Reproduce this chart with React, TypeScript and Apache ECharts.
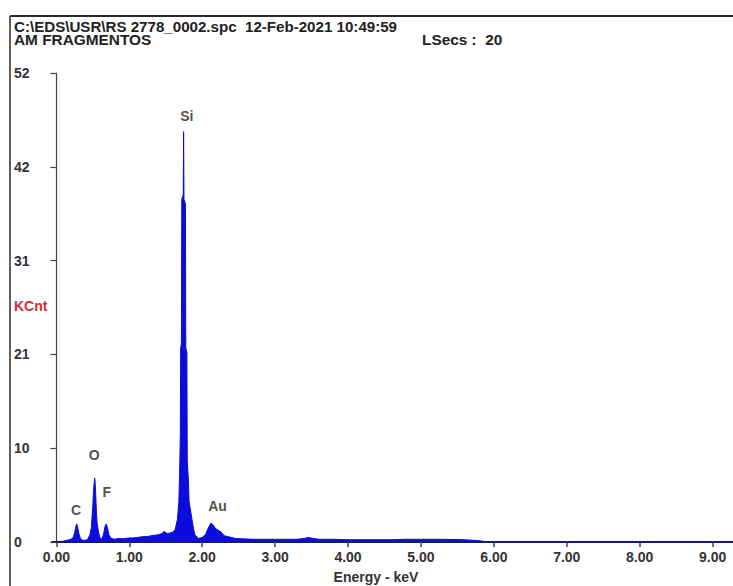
import React, { useEffect, useRef } from "react";
import * as echarts from "echarts";

// Spectrum (energy in keV, counts in KCnt)
const energy = [
  0.0, 0.05, 0.1, 0.15, 0.2, 0.23, 0.25, 0.27, 0.28, 0.29, 0.31, 0.33, 0.36, 0.4, 0.43, 0.46, 0.48, 0.5,
  0.51, 0.52, 0.525, 0.53, 0.54, 0.55, 0.56, 0.58, 0.6, 0.63, 0.65, 0.67, 0.685, 0.7, 0.72, 0.75, 0.8,
  0.85, 0.9, 0.95, 1.0, 1.05, 1.1, 1.15, 1.2, 1.25, 1.3, 1.35, 1.4, 1.45, 1.48, 1.5, 1.53, 1.56, 1.6,
  1.63, 1.66, 1.68, 1.69, 1.7, 1.705, 1.715, 1.72, 1.74, 1.745, 1.75, 1.77, 1.775, 1.79, 1.795, 1.81,
  1.82, 1.85, 1.88, 1.9, 1.95, 2.0, 2.05, 2.08, 2.12, 2.15, 2.18, 2.22, 2.26, 2.3, 2.35, 2.4, 2.45,
  2.55, 2.7, 2.9, 3.1, 3.3, 3.4, 3.46, 3.52, 3.6, 3.8, 4.0, 4.3, 4.6, 4.8, 5.0, 5.3, 5.6, 5.8, 5.9,
  6.0, 9.28,
];
const kcnt = [
  0.0, 0.05, 0.1, 0.2, 0.3, 0.5, 1.0, 1.8, 2.0, 1.7, 0.9, 0.4, 0.2, 0.2, 0.3, 0.8, 1.6, 4.0,
  5.8, 6.6, 7.1, 6.8, 5.2, 3.2, 2.0, 1.0, 0.4, 0.4, 1.0, 1.8, 2.0, 1.6, 0.8, 0.4, 0.3,
  0.4, 0.35, 0.4, 0.45, 0.45, 0.5, 0.55, 0.6, 0.6, 0.7, 0.75, 0.8, 0.95, 1.2, 1.0, 0.95, 1.0, 1.1,
  1.4, 2.5, 4.5, 7.5, 12, 21.5, 22, 38, 38.5, 45.5, 38, 37.5, 21.5, 21, 9, 7,
  4.5, 3, 1.5, 0.8, 0.4, 0.5, 0.9, 1.5, 2.1, 1.9, 1.5, 1.3, 1.1, 0.7, 0.6, 0.5, 0.4,
  0.35, 0.3, 0.3, 0.3, 0.3, 0.4, 0.5, 0.4, 0.3, 0.3, 0.25, 0.25, 0.25, 0.3, 0.3, 0.3, 0.25, 0.15, 0.02,
  0.0, 0.0,
];

// Peak labels
const peakNames = ["C", "O", "F", "Si", "Au"];
const peakEnergy = [0.27, 0.52, 0.69, 1.79, 2.21];
const peakLabelY = [3.5, 9.6, 5.5, 47.2, 4.0];

// Axis ticks
const xTicks = [0, 1, 2, 3, 4, 5, 6, 7, 8, 9];
const yMax = 52;
const yInterval = 10.4;

const titleLine1 = "C:\\EDS\\USR\\RS 2778_0002.spc  12-Feb-2021 10:49:59";
const titleLine2 = "AM FRAGMENTOS";
const liveSecs = "LSecs :  20";
const yName = "KCnt";
const xName = "Energy - keV";

export default function App() {
  const ref = useRef<HTMLDivElement>(null);
  useEffect(() => {
    if (!ref.current) return;
    const chart = echarts.init(ref.current, null, { renderer: "svg" });
    const font = "Liberation Sans, Arial, sans-serif";
    const spectrum = energy.map((e, i) => [e, kcnt[i]]);
    const peaks = peakNames.map((n, i) => ({ name: n, value: [peakEnergy[i], peakLabelY[i]] }));
    chart.setOption({
      animation: false,
      backgroundColor: "#ffffff",
      grid: { left: 52, right: 0, top: 73, bottom: 44, containLabel: false },
      xAxis: {
        type: "value",
        min: -0.06,
        max: 9.28,
        axisLine: { show: true, lineStyle: { color: "#1c1c3c", width: 2 } },
        axisTick: { show: true, length: 5, customValues: xTicks, lineStyle: { color: "#444", width: 1.5 } },
        axisLabel: {
          show: true,
          customValues: xTicks,
          formatter: (v: number) => v.toFixed(2),
          margin: 8,
          color: "#333",
          fontWeight: "bold",
          fontSize: 14,
          fontFamily: font,
        },
        splitLine: { show: false },
      },
      yAxis: {
        type: "value",
        min: 0,
        max: yMax,
        interval: yInterval,
        axisLine: { show: true, lineStyle: { color: "#444", width: 1.2 } },
        axisTick: { show: true, length: 6, lineStyle: { color: "#444", width: 1.2 } },
        axisLabel: {
          show: true,
          align: "left",
          margin: 38,
          formatter: (v: number) => String(Math.round(v)),
          color: "#333",
          fontWeight: "bold",
          fontSize: 14,
          fontFamily: font,
        },
        splitLine: { show: false },
      },
      series: [
        {
          type: "line",
          data: spectrum,
          showSymbol: false,
          symbol: "none",
          lineStyle: { color: "#0c0cd6", width: 1 },
          areaStyle: { color: "#0c0cdc", opacity: 1 },
          z: 2,
        },
        {
          type: "scatter",
          data: peaks,
          symbolSize: 0,
          label: {
            show: true,
            position: "inside",
            formatter: "{b}",
            color: "#222",
            fontWeight: "bold",
            fontSize: 14,
            fontFamily: font,
          },
          z: 3,
        },
      ],
      graphic: [
        { type: "line", shape: { x1: 10, y1: 16, x2: 733, y2: 16 }, style: { stroke: "#2a2a2a", lineWidth: 2 } },
        { type: "line", shape: { x1: 10, y1: 16, x2: 10, y2: 586 }, style: { stroke: "#2a2a2a", lineWidth: 1.5 } },
        {
          type: "text",
          x: 14,
          y: 27,
          scaleX: 1.08,
          style: { text: titleLine1, fill: "#222", font: `bold 14px ${font}`, textVerticalAlign: "middle" },
        },
        {
          type: "text",
          x: 14,
          y: 40,
          scaleX: 1.1,
          style: { text: titleLine2, fill: "#222", font: `bold 14px ${font}`, textVerticalAlign: "middle" },
        },
        {
          type: "text",
          x: 422,
          y: 40,
          scaleX: 1.1,
          style: { text: liveSecs, fill: "#222", font: `bold 14px ${font}`, textVerticalAlign: "middle" },
        },
        {
          type: "text",
          x: 14,
          y: 306,
          style: { text: yName, fill: "#d42a3a", font: `bold 14px ${font}`, textVerticalAlign: "middle" },
        },
        {
          type: "text",
          x: 376,
          y: 577,
          style: { text: xName, fill: "#333", font: `bold 14px ${font}`, textAlign: "center", textVerticalAlign: "middle" },
        },
      ],
    });
    return () => chart.dispose();
  }, []);
  return (
    <div
      ref={ref}
      style={{ position: "fixed", left: 0, top: 0, width: 733, height: 586, background: "#fff" }}
    />
  );
}
